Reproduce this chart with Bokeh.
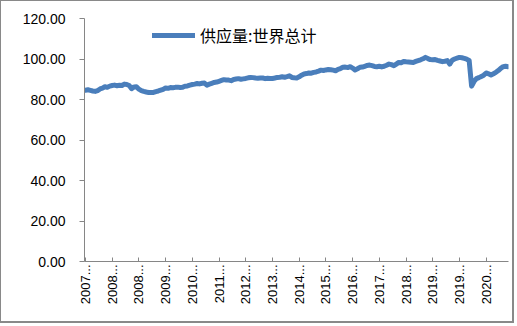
from bokeh.plotting import figure
from bokeh.models import (Range1d, FixedTicker, NumeralTickFormatter, Legend,
                          LegendItem, ColumnDataSource)
from bokeh.embed import file_html
from bokeh.resources import INLINE
import numpy as np

# Monthly world oil supply, 2007-02 .. 2021-08
supply_2007 = [84.6, 84.8, 84.5, 84.2, 84.0, 84.4, 85.2, 85.6, 86.3, 86.0, 86.6]
supply_2008 = [86.9, 87.1, 86.8, 87.0, 86.9, 87.6, 87.4, 86.9, 85.4, 86.2, 86.3, 85.1]
supply_2009 = [84.4, 84.0, 83.7, 83.5, 83.4, 83.5, 83.9, 84.2, 84.6, 85.0, 85.7, 85.5]
supply_2010 = [85.9, 85.8, 86.0, 86.1, 85.9, 86.0, 86.6, 86.7, 87.1, 87.4, 87.6, 87.9]
supply_2011 = [87.7, 88.0, 88.1, 87.1, 87.6, 88.0, 88.4, 88.6, 89.0, 89.4, 89.8, 89.6]
supply_2012 = [89.6, 89.3, 89.9, 90.1, 90.3, 90.0, 90.2, 90.4, 90.7, 90.9, 90.8, 90.6]
supply_2013 = [90.5, 90.6, 90.6, 90.3, 90.5, 90.4, 90.4, 90.6, 90.9, 91.0, 91.2, 91.0]
supply_2014 = [91.3, 91.7, 90.9, 90.7, 90.6, 91.2, 92.0, 92.6, 92.8, 93.1, 93.0, 93.4]
supply_2015 = [93.6, 94.0, 94.5, 94.3, 94.6, 94.8, 94.7, 94.5, 94.2, 94.9, 95.3, 95.9]
supply_2016 = [96.0, 95.8, 96.2, 95.5, 94.6, 95.2, 95.9, 96.0, 96.4, 96.8, 97.0, 96.7]
supply_2017 = [96.3, 96.2, 96.4, 96.1, 96.4, 96.9, 97.5, 97.2, 96.7, 97.5, 98.3, 98.2]
supply_2018 = [98.8, 98.6, 98.5, 98.4, 98.3, 98.8, 99.2, 99.6, 100.1, 100.8, 100.2, 99.7]
supply_2019 = [99.6, 99.7, 99.3, 99.0, 98.7, 98.9, 99.2, 97.5, 99.4, 100.0, 100.4, 100.8]
supply_2020 = [100.6, 100.3, 99.9, 99.3, 86.6, 88.9, 90.3, 90.8, 91.4, 92.0, 93.1, 92.7]
supply_2021 = [92.1, 92.7, 93.4, 94.3, 95.4, 96.2, 96.4, 96.2]

supply = (supply_2007 + supply_2008 + supply_2009 + supply_2010 + supply_2011 +
          supply_2012 + supply_2013 + supply_2014 + supply_2015 + supply_2016 +
          supply_2017 + supply_2018 + supply_2019 + supply_2020 + supply_2021)

series_name = "供应量:世界总计"

# category axis labels (Excel-truncated), one every 11 months
tick_index = [0, 11, 22, 33, 44, 55, 66, 77, 88, 99, 110, 121, 132, 143, 154, 165]
tick_labels = ["2007...", "2008...", "2008...", "2009...", "2010...", "2011...",
               "2012...", "2013...", "2014...", "2015...", "2016...", "2017...",
               "2018...", "2019...", "2019...", "2020..."]
y_ticks = [0, 20, 40, 60, 80, 100, 120]

src = ColumnDataSource(dict(x=list(range(len(supply))), y=supply))

p = figure(width=514, height=323, output_backend="svg", toolbar_location=None,
           x_range=Range1d(-0.4, 174.2), y_range=Range1d(0, 120),
           min_border_left=83, min_border_right=7, min_border_top=17,
           min_border_bottom=63, background_fill_color="white",
           border_fill_color="white")
p.styles = {"border-style": "solid", "border-color": "#898989",
            "border-width": "1px 2px 2px 1px"}
p.outline_line_color = None
p.grid.visible = False

r = p.line(x="x", y="y", source=src, line_color="#4a7ebb", line_width=5,
           line_join="round", line_cap="round")

axis_col = "#868686"
p.yaxis.ticker = FixedTicker(ticks=y_ticks)
p.yaxis.formatter = NumeralTickFormatter(format="0.00")
p.yaxis.major_tick_out = 5
p.yaxis.major_tick_in = 0
p.yaxis.minor_tick_out = 0
p.yaxis.minor_tick_in = 0
p.yaxis.axis_line_color = axis_col
p.yaxis.major_tick_line_color = axis_col
p.yaxis.major_label_text_font = "Liberation Sans"
p.yaxis.major_label_text_font_size = "14px"
p.yaxis.major_label_text_color = "black"
p.yaxis.major_label_standoff = 14

p.xaxis.ticker = FixedTicker(ticks=tick_index)
p.xaxis.major_label_overrides = {i: s for i, s in zip(tick_index, tick_labels)}
p.xaxis.major_label_orientation = np.pi / 2
p.xaxis.major_tick_in = 4
p.xaxis.major_tick_out = 0
p.xaxis.minor_tick_out = 0
p.xaxis.minor_tick_in = 0
p.xaxis.axis_line_color = axis_col
p.xaxis.major_tick_line_color = axis_col
p.xaxis.major_label_text_font = "Liberation Sans"
p.xaxis.major_label_text_font_size = "13px"
p.xaxis.major_label_text_color = "black"
p.xaxis.major_label_standoff = 3

legend = Legend(items=[LegendItem(label=series_name, renderers=[r])],
                location=(68, 214), orientation="horizontal",
                glyph_width=43, glyph_height=20, label_standoff=5,
                padding=0, margin=0, spacing=0, border_line_color=None,
                background_fill_alpha=0, label_text_font="Noto Sans CJK SC",
                label_text_font_size="16px", label_text_color="black")
p.add_layout(legend)

open("out.html", "w").write(file_html(p, INLINE))
